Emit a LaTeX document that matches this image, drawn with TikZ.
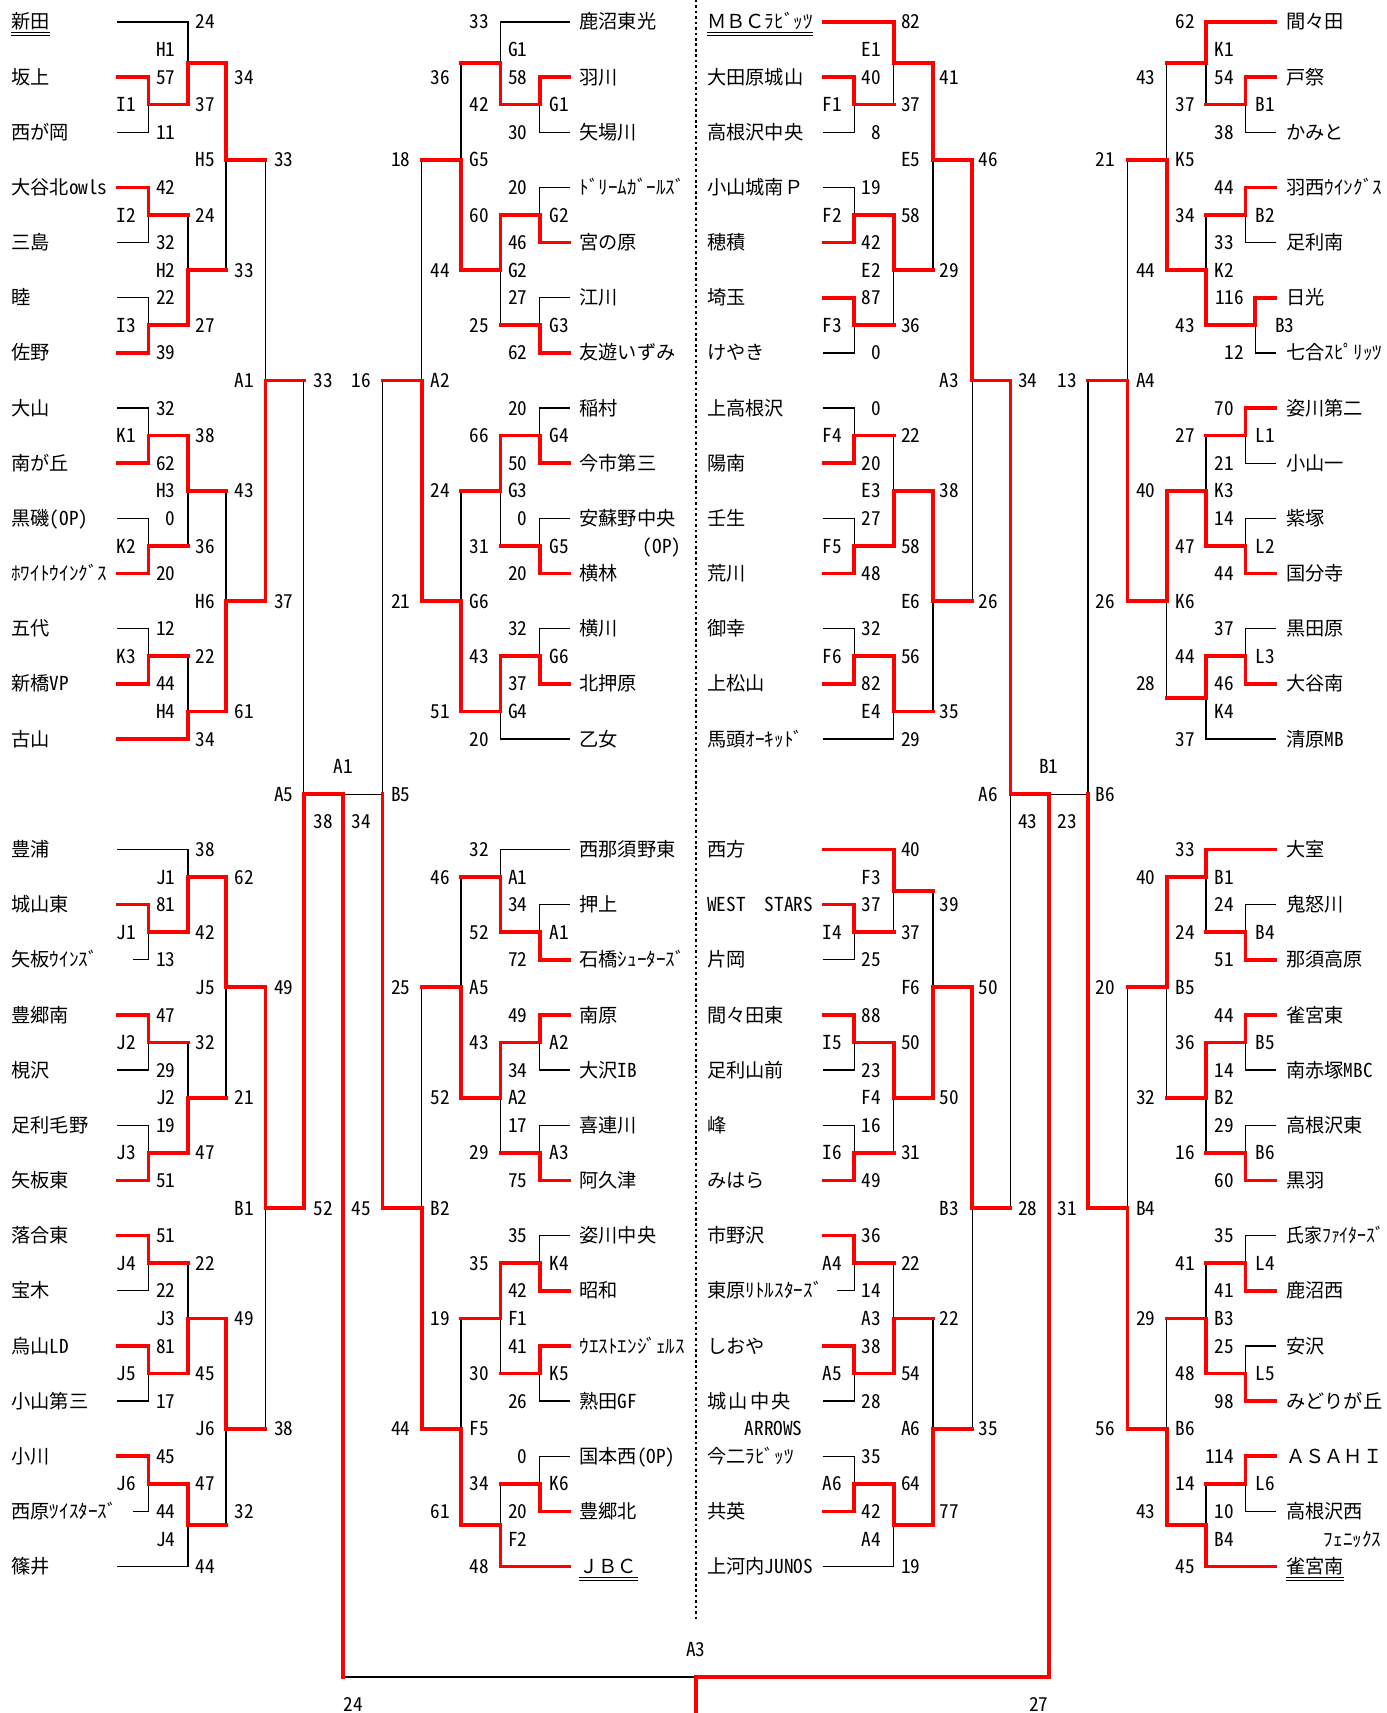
\documentclass[tikz,border=0pt]{standalone}
\usepackage{fontspec}
\setmainfont{Noto Sans CJK JP}
\newfontfamily\hw{Noto Sans CJK JP}[RawFeature=+hwid]
\newcommand{\hankaku}[1]{{\hw #1}}
\newcommand{\labfont}{\fontsize{8.8pt}{10pt}\selectfont}
\newcommand{\seedmark}[1]{%
  \draw[uline] ([yshift=-1.5pt]#1.south west) -- ([yshift=-1.5pt]#1.south east);
  \draw[uline] ([yshift=-2.8pt]#1.south west) -- ([yshift=-2.8pt]#1.south east);}
% matches whose winner went out in the next round
\newcommand{\matchlosers}{aI2/aH2,aH2/aH5,aK2/aH3,aK3/aH4,aH3/aH6,aH5/aA1,aJ2/aJ2u,aJ2u/aJ5u,aJ4/aJ3u,aJ4u/aJ6u,aJ6u/aB1,aA1/aA5,
  bG3/bG2u,bG1u/bG5u,bG5/bG3u,bG3u/bG6u,bG5u/bA2,bA3/bA2u,bA1u/bA5,bK5/bF1,bK6/bF2,bF1/bF5,bA5/bB2,bA2/bB5,
  cF1/cE1,cF3/cE2,cE2/cE5,cF4/cE3,cE4/cE6,cE6/cA3,cI4/cF3u,cI6/cF4u,cF3u/cF6u,cA4/cA3u,cA3u/cA6u,cA6u/cB3,cB3/cA6w,
  dB1/dK1,dB2/dK2,dK1/dK5,dL1/dK3,dK4/dK6,dK5/dA4,dB4/dB1u,dB6/dB2u,dB2u/dB5u,dL4/dB3u,dL6/dB4u,dB3u/dB6u,dB5u/dB4w,dA4/dB6w}
\tikzset{
  team/.style={anchor=west, inner sep=0pt, text height=6.5pt, text depth=0pt, font=\labfont},
  lab/.style={team, anchor=east, font=\labfont\hw},
  labw/.style={lab, anchor=west},
  labc/.style={lab, anchor=center},
  win/.style={draw=red, line width=1.7pt, line cap=rect},
  los/.style={draw=black, line width=0.6pt, line cap=rect},
  divider/.style={draw=black, line width=1.2pt, dash pattern=on 1.2pt off 1.3pt},
  uline/.style={draw=black, line width=0.45pt}
}

\begin{document}
\begin{tikzpicture}[x=0.5pt, y=-12.625pt]
  \useasboundingbox (0,-0.792) rectangle (1269,61.307);

  % start of the team lines in each column
  \coordinate (sa) at (108,0);
  \coordinate (sa2) at (122,0);
  \coordinate (sb) at (521,0);
  \coordinate (sc) at (754,0);
  \coordinate (sc2) at (767,0);
  \coordinate (sd) at (1167,0);

  % teams
  \foreach \r/\t in {0/新田,2/坂上,4/西が岡,6/大谷北\hankaku{owls},8/三島,10/睦,12/佐野,14/大山,16/南が丘,18/黒磯\hankaku{(OP)},20/ﾎﾜｲﾄｳｲﾝｸﾞｽ,22/五代,24/新橋\hankaku{VP},26/古山,30/豊浦,32/城山東,34/矢板ｳｲﾝｽﾞ,36/豊郷南,38/梘沢,40/足利毛野,42/矢板東,44/落合東,46/宝木,48/烏山\hankaku{LD},50/小山第三,52/小川,54/西原ﾂｲｽﾀｰｽﾞ,56/篠井}
    \node[team] (a\r) at (10,\r) {\t};
  \foreach \r/\t in {0/鹿沼東光,2/羽川,4/矢場川,6/ﾄﾞﾘｰﾑｶﾞｰﾙｽﾞ,8/宮の原,10/江川,12/友遊いずみ,14/稲村,16/今市第三,18/安蘇野中央,20/横林,22/横川,24/北押原,26/乙女,30/西那須野東,32/押上,34/石橋ｼｭｰﾀｰｽﾞ,36/南原,38/大沢\hankaku{IB},40/喜連川,42/阿久津,44/姿川中央,46/昭和,48/ｳｴｽﾄｴﾝｼﾞｪﾙｽ,50/熟田\hankaku{GF},52/国本西\hankaku{(OP)},54/豊郷北,56/ＪＢＣ}
    \node[team] (b\r) at (530,\r) {\t};
  \foreach \r/\t in {0/ＭＢＣﾗﾋﾞｯﾂ,2/大田原城山,4/高根沢中央,6/小山城南Ｐ,8/穂積,10/埼玉,12/けやき,14/上高根沢,16/陽南,18/壬生,20/荒川,22/御幸,24/上松山,26/馬頭ｵｰｷｯﾄﾞ,30/西方,32/\hankaku{WEST}　\hankaku{STARS},34/片岡,36/間々田東,38/足利山前,40/峰,42/みはら,44/市野沢,46/東原ﾘﾄﾙｽﾀｰｽﾞ,48/しおや,50/城\kern1pt 山\kern1pt 中\kern1pt 央,52/今二ﾗﾋﾞｯﾂ,54/共英,56/上河内\hankaku{JUNOS}}
    \node[team] (c\r) at (647,\r) {\t};
  \foreach \r/\t in {0/間々田,2/戸祭,4/かみと,6/羽西ｳｲﾝｸﾞｽ,8/足利南,10/日光,12/七合ｽﾋﾟﾘｯﾂ,14/姿川第二,16/小山一,18/紫塚,20/国分寺,22/黒田原,24/大谷南,26/清原\hankaku{MB},30/大室,32/鬼怒川,34/那須高原,36/雀宮東,38/南赤塚\hankaku{MBC},40/高根沢東,42/黒羽,44/\scalebox{0.93}[1]{氏家ﾌｧｲﾀｰｽﾞ},46/鹿沼西,48/安沢,50/みどりが丘,52/ＡＳＡＨＩ,54/高根沢西,56/雀宮南}
    \node[team] (d\r) at (1177,\r) {\t};
  \node[lab] (opnote) at (624,19) {(OP)};
  \node[lab] (arrows) at (735,51) {ARROWS};
  \node[lab] (phoenix) at (1265,55) {ﾌｪﾆｯｸｽ};
  \seedmark{a0} \seedmark{b56} \seedmark{c0} \seedmark{d56}

  % match points
  \foreach \n/\x/\y in {aI1/136/3,aI2/136/7,aI3/136/11,aK1/136/15,aK2/136/19,aK3/136/23,
      aH1/172/1.5,aH2/172/9,aH3/172/17,aH4/172/25,aH5/207/5,aH6/207/21,aA1/243/13,
      aJ1/136/33,aJ2/136/37,aJ3/136/41,aJ4/136/45,aJ5/136/49,aJ6/136/53,
      aJ1u/172/31,aJ2u/172/39,aJ3u/172/47,aJ4u/172/54.5,aJ5u/207/35,aJ6u/207/51,aB1/243/43,aA5/278/28,
      bG1/494/3,bG2/494/7,bG3/494/11,bG4/494/15,bG5/494/19,bG6/494/23,
      bG1u/458/1.5,bG2u/458/9,bG3u/458/17,bG4u/458/25,bG5u/422/5,bG6u/422/21,bA2/386/13,
      bA1/494/33,bA2l/494/37,bA3/494/41,bK4/494/45,bK5/494/49,bK6/494/53,
      bA1u/458/31,bA2u/458/39,bF1/458/47,bF2/458/54.5,bA5/422/35,bF5/422/51,bB2/386/43,bB5/350/28,
      cF1/782/3,cF2/782/7,cF3/782/11,cF4/782/15,cF5/782/19,cF6/782/23,
      cE1/818/1.5,cE2/818/9,cE3/818/17,cE4/818/25,cE5/854/5,cE6/854/21,cA3/890/13,
      cI4/782/33,cI5/782/37,cI6/782/41,cA4/782/45,cA5/782/49,cA6/782/53,
      cF3u/818/31.5,cF4u/818/39,cA3u/818/47,cA4u/818/54.5,cF6u/854/35,cA6u/854/51,cB3/890/43,cA6w/925/28,
      dB1/1140/3,dB2/1140/7,dB3/1149/11,dL1/1140/15,dL2/1140/19,dL3/1140/23,
      dK1/1104/1.5,dK2/1104/9,dK3/1104/17,dK4/1104/24.5,dK5/1068/5,dK6/1068/21,dA4/1032/13,
      dB4/1140/33,dB5/1140/37,dB6/1140/41,dL4/1140/45,dL5/1140/49,dL6/1140/53,
      dB1u/1104/31,dB2u/1104/39,dB3u/1104/47,dB4u/1104/54.5,dB5u/1068/35,dB6u/1068/51,dB4w/1032/43,dB6w/996/28,
      sA/314/28,sB/960/28,fL/314/60,fin/637/60,fout/637/61.4,dtop/637/-0.8,dbot/637/57.9}
    \coordinate (\n) at (\x,\y);

  % teams that lost
  \foreach \p/\q in {a0 -| sa/aH1,a4 -| sa/aI1,a8 -| sa/aI2,a10 -| sa/aI3,
      a14 -| sa/aK1,a18 -| sa/aK2,a22 -| sa/aK3,
      a30 -| sa/aJ1u,a34 -| sa2/aJ1,a38 -| sa/aJ2,a40 -| sa/aJ3,
      a46 -| sa/aJ4,a50 -| sa/aJ5,a54 -| sa2/aJ6,a56 -| sa/aJ4u,
      b0 -| sb/bG1u,b4 -| sb/bG1,b6 -| sb/bG2,b10 -| sb/bG3,
      b14 -| sb/bG4,b18 -| sb/bG5,b22 -| sb/bG6,b26 -| sb/bG4u,
      b30 -| sb/bA1u,b32 -| sb/bA1,b38 -| sb/bA2l,b40 -| sb/bA3,
      b44 -| sb/bK4,b50 -| sb/bK5,b52 -| sb/bK6,
      c4 -| sc/cF1,c6 -| sc/cF2,c12 -| sc/cF3,
      c14 -| sc/cF4,c18 -| sc/cF5,c22 -| sc/cF6,c26 -| sc/cE4,
      c34 -| sc/cI4,c38 -| sc/cI5,c40 -| sc/cI6,
      c46 -| sc2/cA4,c50 -| sc/cA5,c52 -| sc/cA6,c56 -| sc/cA4u,
      d4 -| sd/dB1,d8 -| sd/dB2,d12 -| sd/dB3,
      d16 -| sd/dL1,d18 -| sd/dL2,d22 -| sd/dL3,d26 -| sd/dK4,
      d32 -| sd/dB4,d38 -| sd/dB5,d40 -| sd/dB6,
      d44 -| sd/dL4,d48 -| sd/dL5,d54 -| sd/dL6,
      bB5/sA,dB6w/sB,fL/fin}
    \draw[los] (\p) -| (\q);
  \foreach \p/\q in \matchlosers
    \draw[los] (\p -| \q) -- (\q);
  \foreach \p/\q in \matchlosers
    \draw[win] (\p) -- (\p -| \q);

  % winning sides
  \foreach \p/\q in {a2 -| sa/aI1,aI1/aH1,a6 -| sa/aI2,a12 -| sa/aI3,aI3/aH2,aH1/aH5,
      a16 -| sa/aK1,a20 -| sa/aK2,aK1/aH3,a24 -| sa/aK3,a26 -| sa/aH4,aH4/aH6,aH6/aA1,
      a32 -| sa/aJ1,aJ1/aJ1u,a36 -| sa/aJ2,a42 -| sa/aJ3,aJ3/aJ2u,aJ1u/aJ5u,
      a44 -| sa/aJ4,a48 -| sa/aJ5,aJ5/aJ3u,a52 -| sa/aJ6,aJ6/aJ4u,aJ3u/aJ6u,aJ5u/aB1,aB1/aA5,
      b2 -| sb/bG1,bG1/bG1u,b8 -| sb/bG2,b12 -| sb/bG3,bG2/bG2u,bG2u/bG5u,
      b16 -| sb/bG4,b20 -| sb/bG5,bG4/bG3u,b24 -| sb/bG6,bG6/bG4u,bG4u/bG6u,bG6u/bA2,
      b34 -| sb/bA1,bA1/bA1u,b36 -| sb/bA2l,b42 -| sb/bA3,bA2l/bA2u,bA2u/bA5,
      b46 -| sb/bK4,b48 -| sb/bK5,bK4/bF1,b54 -| sb/bK6,b56 -| sb/bF2,bF2/bF5,bF5/bB2,bB2/bB5,
      c0 -| sc/cE1,c2 -| sc/cF1,c8 -| sc/cF2,c10 -| sc/cF3,cF2/cE2,cE1/cE5,
      c16 -| sc/cF4,c20 -| sc/cF5,cF5/cE3,c24 -| sc/cF6,cF6/cE4,cE3/cE6,cE5/cA3,
      c30 -| sc/cF3u,c32 -| sc/cI4,c36 -| sc/cI5,c42 -| sc/cI6,cI5/cF4u,cF4u/cF6u,
      c44 -| sc/cA4,c48 -| sc/cA5,cA5/cA3u,c54 -| sc/cA6,cA6/cA4u,cA4u/cA6u,cF6u/cB3,cA3/cA6w,
      d0 -| sd/dK1,d2 -| sd/dB1,d6 -| sd/dB2,d10 -| sd/dB3,dB3/dK2,dK2/dK5,
      d14 -| sd/dL1,d20 -| sd/dL2,dL2/dK3,d24 -| sd/dL3,dL3/dK4,dK3/dK6,dK6/dA4,
      d30 -| sd/dB1u,d34 -| sd/dB4,d36 -| sd/dB5,d42 -| sd/dB6,dB5/dB2u,dB1u/dB5u,
      d46 -| sd/dL4,d50 -| sd/dL5,dL5/dB3u,d52 -| sd/dL6,d56 -| sd/dB4u,dB4u/dB6u,dB6u/dB4w,dB4w/dB6w,
      aA5/sA,cA6w/sB,sA/fL,fin/fout}
    \draw[win] (\p) -| (\q);
  \draw[win] (sB) |- (fin);

  \draw[divider] (dtop) -- (dbot);

  % scores and match codes, column 1
  \foreach \r/\t in {3/I1,7/I2,11/I3,15/K1,19/K2,23/K3,33/J1,37/J2,41/J3,45/J4,49/J5,53/J6}
    \node[lab] (l125-\r) at (125,\r) {\t};
  \foreach \r/\t in {1/H1,2/57,4/11,6/42,8/32,9/H2,10/22,12/39,14/32,16/62,17/H3,18/0,20/20,22/12,24/44,25/H4,31/J1,32/81,34/13,36/47,38/29,39/J2,40/19,42/51,44/51,46/22,47/J3,48/81,50/17,52/45,54/44,55/J4}
    \node[lab] (l161-\r) at (161,\r) {\t};
  \foreach \r/\t in {0/24,3/37,5/H5,7/24,11/27,15/38,19/36,21/H6,23/22,26/34,30/38,33/42,35/J5,37/32,41/47,45/22,49/45,51/J6,53/47,56/44}
    \node[lab] (l197-\r) at (197,\r) {\t};
  \foreach \r/\t in {2/34,9/33,13/A1,17/43,25/61,31/62,39/21,43/B1,47/49,54/32}
    \node[lab] (l233-\r) at (233,\r) {\t};
  \foreach \r/\t in {5/33,21/37,28/A5,35/49,51/38}
    \node[lab] (l269-\r) at (269,\r) {\t};
  \foreach \r/\t in {13/33,29/38,43/52}
    \node[lab] (l305-\r) at (305,\r) {\t};
  \foreach \r/\t in {13/16,29/34,43/45}
    \node[lab] (l340-\r) at (340,\r) {\t};

  % column 2
  \foreach \r/\t in {5/18,21/21,28/B5,35/25,51/44}
    \node[lab] (l376-\r) at (376,\r) {\t};
  \foreach \r/\t in {2/36,9/44,13/A2,17/24,25/51,31/46,39/52,43/B2,47/19,54/61}
    \node[lab] (l412-\r) at (412,\r) {\t};
  \foreach \r/\t in {0/33,3/42,5/G5,7/60,11/25,15/66,19/31,21/G6,23/43,26/20,30/32,33/52,35/A5,37/43,41/29,45/35,49/30,51/F5,53/34,56/48}
    \node[lab] (l448-\r) at (448,\r) {\t};
  \foreach \r/\t in {1/G1,2/58,4/30,6/20,8/46,9/G2,10/27,12/62,14/20,16/50,17/G3,18/0,20/20,22/32,24/37,25/G4,31/A1,32/34,34/72,36/49,38/34,39/A2,40/17,42/75,44/35,46/42,47/F1,48/41,50/26,52/0,54/20,55/F2}
    \node[lab] (l483-\r) at (483,\r) {\t};
  \foreach \r/\t in {3/G1,7/G2,11/G3,15/G4,19/G5,23/G6,33/A1,37/A2,41/A3,45/K4,49/K5,53/K6}
    \node[labw] (l503-\r) at (503,\r) {\t};

  % column 3
  \foreach \r/\t in {3/F1,7/F2,11/F3,15/F4,19/F5,23/F6,33/I4,37/I5,41/I6,45/A4,49/A5,53/A6}
    \node[lab] (l771-\r) at (771,\r) {\t};
  \foreach \r/\t in {1/E1,2/40,4/8,6/19,8/42,9/E2,10/87,12/0,14/0,16/20,17/E3,18/27,20/48,22/32,24/82,25/E4,31/F3,32/37,34/25,36/88,38/23,39/F4,40/16,42/49,44/36,46/14,47/A3,48/38,50/28,52/35,54/42,55/A4}
    \node[lab] (l807-\r) at (807,\r) {\t};
  \foreach \r/\t in {0/82,3/37,5/E5,7/58,11/36,15/22,19/58,21/E6,23/56,26/29,30/40,33/37,35/F6,37/50,41/31,45/22,49/54,51/A6,53/64,56/19}
    \node[lab] (l843-\r) at (843,\r) {\t};
  \foreach \r/\t in {2/41,9/29,13/A3,17/38,25/35,32/39,39/50,43/B3,47/22,54/77}
    \node[lab] (l878-\r) at (878,\r) {\t};
  \foreach \r/\t in {5/46,21/26,28/A6,35/50,51/35}
    \node[lab] (l914-\r) at (914,\r) {\t};
  \foreach \r/\t in {13/34,29/43,43/28}
    \node[lab] (l950-\r) at (950,\r) {\t};
  \foreach \r/\t in {13/13,29/23,43/31}
    \node[lab] (l986-\r) at (986,\r) {\t};

  % column 4
  \foreach \r/\t in {5/21,21/26,28/B6,35/20,51/56}
    \node[lab] (l1021-\r) at (1021,\r) {\t};
  \foreach \r/\t in {2/43,9/44,13/A4,17/40,24/28,31/40,39/32,43/B4,47/29,54/43}
    \node[lab] (l1058-\r) at (1058,\r) {\t};
  \foreach \r/\t in {0/62,3/37,5/K5,7/34,11/43,15/27,19/47,21/K6,23/44,26/37,30/33,33/24,35/B5,37/36,41/16,45/41,49/48,51/B6,53/14,56/45}
    \node[lab] (l1094-\r) at (1094,\r) {\t};
  \foreach \r/\t in {1/K1,2/54,4/38,6/44,8/33,9/K2,14/70,16/21,17/K3,18/14,20/44,22/37,24/46,25/K4,31/B1,32/24,34/51,36/44,38/14,39/B2,40/29,42/60,44/35,46/41,47/B3,48/25,50/98,52/114,54/10,55/B4}
    \node[lab] (l1130-\r) at (1130,\r) {\t};
  \foreach \r/\t in {10/116,12/12}
    \node[lab] (l1139-\r) at (1139,\r) {\t};
  \foreach \r/\t in {3/B1,7/B2,15/L1,19/L2,23/L3,33/B4,37/B5,41/B6,45/L4,49/L5,53/L6}
    \node[labw] (l1149-\r) at (1149,\r) {\t};
  \node[labw] (l1167-11) at (1167,11) {B3};

  % semifinals and final
  \node[labc] (semiA) at (314,27) {A1};
  \node[labc] (semiB) at (960,27) {B1};
  \node[labc] (finA3) at (637,59) {A3};
  \node[labw] (finL) at (314,61) {24};
  \node[lab] (finR) at (960,61) {27};
\end{tikzpicture}
\end{document}
